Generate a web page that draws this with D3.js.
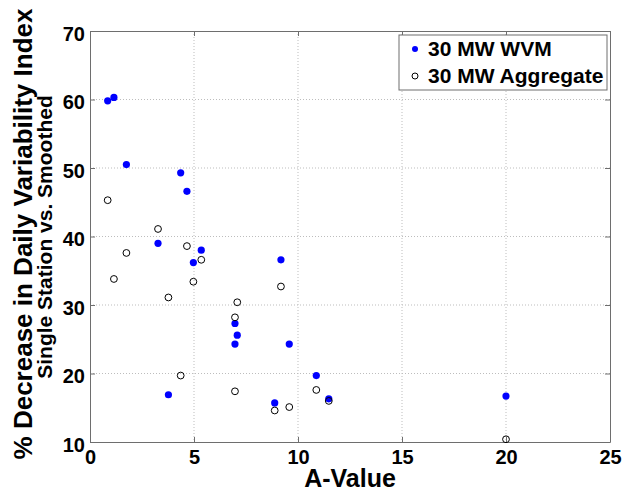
<!DOCTYPE html>
<html>
<head>
<meta charset="utf-8">
<script src="https://cdn.jsdelivr.net/npm/d3@7"></script>
<style>
  body { margin: 0; background: #fff; }
  svg text { font-family: "Liberation Sans", Arial, sans-serif; font-weight: bold; }
</style>
</head>
<body>
<div id="chart"></div>
<script>
// A-Value of each site (same for both series)
const aValues = [0.85, 1.15, 1.75, 4.36, 4.66, 3.27, 5.35, 4.97, 9.18, 6.97, 7.08, 6.97, 9.58, 3.77, 8.88, 10.88, 11.48, 20.0];
// % decrease, single station vs. WVM smoothed
const wvmValues = [59.8, 60.3, 50.5, 49.3, 46.6, 39.0, 38.0, 36.2, 36.6, 27.3, 25.6, 24.3, 24.3, 16.9, 15.7, 19.7, 16.3, 16.7];
// % decrease, single station vs. aggregate
const aggValues = [45.3, 33.8, 37.6, 19.7, 38.6, 41.1, 36.6, 33.4, 32.7, 17.4, 30.4, 28.2, 15.1, 31.1, 14.6, 17.6, 16.0, 10.4];

const xTicks = [0, 5, 10, 15, 20, 25];
const yTicks = [10, 20, 30, 40, 50, 60, 70];
const seriesNames = ["30 MW WVM", "30 MW Aggregate"];

const width = 623, height = 491;
const margin = { top: 31, right: 13, bottom: 49, left: 90 };
const plotW = width - margin.left - margin.right;
const plotH = height - margin.top - margin.bottom;

const svg = d3.select("#chart").append("svg")
    .attr("width", width)
    .attr("height", height);

const g = svg.append("g").attr("transform", `translate(${margin.left},${margin.top})`);

const x = d3.scaleLinear().domain([0, 25]).range([0, plotW]);
const y = d3.scaleLinear().domain([10, 70]).range([plotH, 0]);

// grid
g.append("g").selectAll("line")
    .data(xTicks.slice(1, -1))
    .join("line")
    .attr("x1", d => x(d)).attr("x2", d => x(d))
    .attr("y1", 0).attr("y2", plotH)
    .attr("stroke", "#bdbdbd").attr("stroke-width", 1)
    .attr("stroke-dasharray", "1,2");
g.append("g").selectAll("line")
    .data(yTicks.slice(1, -1))
    .join("line")
    .attr("x1", 0).attr("x2", plotW)
    .attr("y1", d => y(d)).attr("y2", d => y(d))
    .attr("stroke", "#bdbdbd").attr("stroke-width", 1)
    .attr("stroke-dasharray", "1,2");

// axes, ticks inside, box all round
const tickLen = 5;
function styleAxis(sel) {
    sel.select(".domain").attr("stroke", "#6e6e6e");
    sel.selectAll(".tick line").attr("stroke", "#6e6e6e");
    sel.selectAll(".tick text")
        .attr("fill", "#000")
        .style("font-family", "'Liberation Sans', Arial, sans-serif")
        .style("font-size", "20px")
        .style("font-weight", "bold");
}

g.append("g")
    .attr("transform", `translate(0,${plotH})`)
    .call(d3.axisBottom(x).tickValues(xTicks).tickSizeInner(-tickLen).tickSizeOuter(0).tickPadding(8))
    .call(styleAxis);
g.append("g")
    .call(d3.axisTop(x).tickValues(xTicks).tickSizeInner(-tickLen).tickSizeOuter(0).tickFormat(""))
    .call(styleAxis);
g.append("g")
    .call(d3.axisLeft(y).tickValues(yTicks).tickSizeInner(-tickLen).tickSizeOuter(0).tickPadding(5))
    .call(styleAxis)
    .selectAll(".tick text").attr("dy", "0.45em");
g.append("g")
    .attr("transform", `translate(${plotW},0)`)
    .call(d3.axisRight(y).tickValues(yTicks).tickSizeInner(-tickLen).tickSizeOuter(0).tickFormat(""))
    .call(styleAxis);

// points
const wvm = aValues.map((a, i) => ({ a, v: wvmValues[i] }));
const agg = aValues.map((a, i) => ({ a, v: aggValues[i] }));

g.append("g").selectAll("circle")
    .data(wvm)
    .join("circle")
    .attr("cx", d => x(d.a))
    .attr("cy", d => y(d.v))
    .attr("r", 3.6)
    .attr("fill", "#0000ff");

g.append("g").selectAll("circle")
    .data(agg)
    .join("circle")
    .attr("cx", d => x(d.a))
    .attr("cy", d => y(d.v))
    .attr("r", 3.4)
    .attr("fill", "none")
    .attr("stroke", "#000")
    .attr("stroke-width", 1);

// labels
svg.append("text")
    .attr("x", margin.left + plotW / 2)
    .attr("y", 487)
    .attr("text-anchor", "middle")
    .style("font-size", "25px")
    .text("A-Value");

svg.append("text")
    .attr("transform", "translate(32,234) rotate(-90)")
    .attr("text-anchor", "middle")
    .style("font-size", "26px")
    .text("% Decrease in Daily Variability Index");

svg.append("text")
    .attr("transform", "translate(52,237) rotate(-90)")
    .attr("text-anchor", "middle")
    .style("font-size", "21px")
    .text("Single Station vs. Smoothed");

// legend
const lg = svg.append("g").attr("transform", "translate(399,35)");
lg.append("rect")
    .attr("width", 208).attr("height", 55)
    .attr("fill", "#fff")
    .attr("stroke", "#6e6e6e");
lg.append("circle").attr("cx", 16).attr("cy", 14).attr("r", 3).attr("fill", "#0000ff");
lg.append("circle").attr("cx", 16).attr("cy", 41).attr("r", 3)
    .attr("fill", "none").attr("stroke", "#000");
lg.selectAll("text.item")
    .data(seriesNames)
    .join("text")
    .attr("class", "item")
    .attr("x", 29)
    .attr("y", (d, i) => 21 + i * 27)
    .style("font-size", "21px")
    .text(d => d);
</script>
</body>
</html>
